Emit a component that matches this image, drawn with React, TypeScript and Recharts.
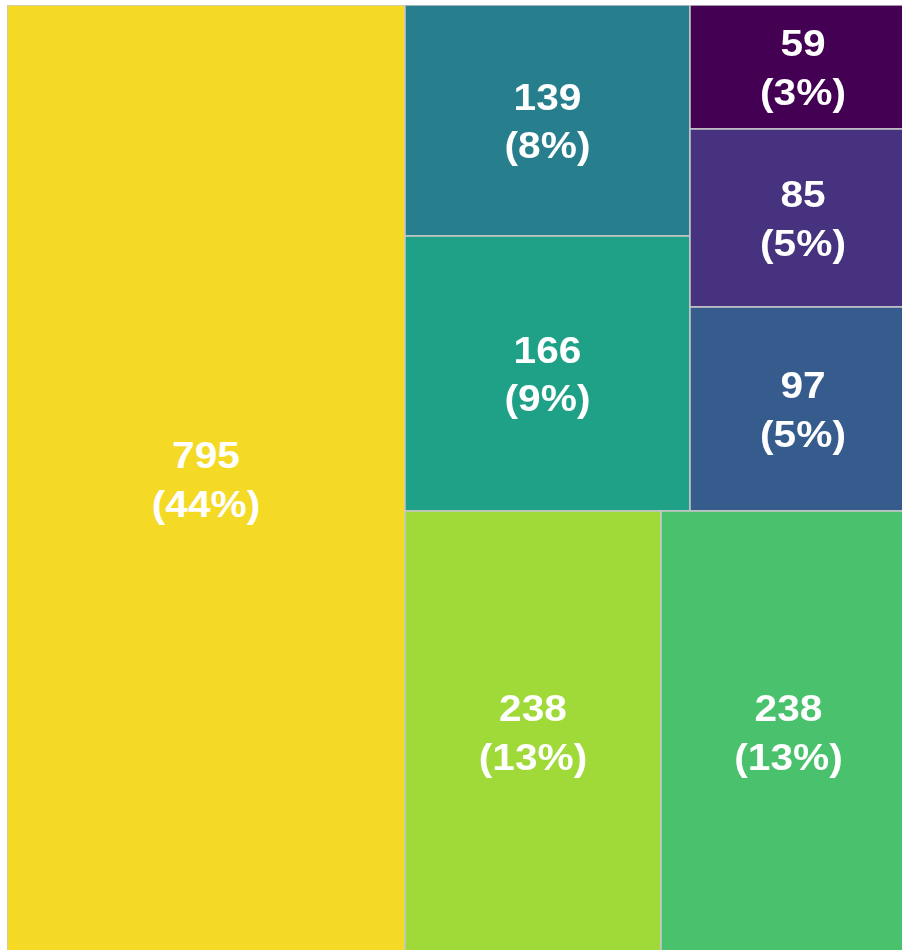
import React from "react";
import { Treemap } from "recharts";

// leaf values, in draw order
const values = [795, 139, 166, 59, 85, 97, 238, 238];
const colors = ["#f4da24", "#277f8e", "#1fa187", "#440154", "#46327e", "#365c8d", "#a0da39", "#4ac16d"];
const total = values.reduce((a, b) => a + b, 0);

const leaf = (i: number) => ({ name: `n${i}`, value: values[i], color: colors[i] });

// grouping so the squarify pass lays the blocks out like the reference
const data = [
    leaf(0),
    {
        name: "rest",
        children: [
            {
                name: "upper",
                children: [
                    { name: "upperLeft", children: [leaf(1), leaf(2)] },
                    { name: "upperRight", children: [leaf(3), leaf(4), leaf(5)] },
                ],
            },
            { name: "lower", children: [leaf(6), leaf(7)] },
        ],
    },
];

const labelStyle = {
    fill: "#fff",
    fontSize: 36,
    fontWeight: "bold",
    fontFamily: "Liberation Sans, Arial, sans-serif",
};

const Cell = (props: any) => {
    const { x, y, width, height, children, value, color } = props;
    if (children && children.length) return <g />;
    const cx = x + width / 2;
    const cy = y + height / 2;
    const pct = Math.round((value / total) * 100);
    // the reference glyphs are a bit wider than tall
    return (
        <g>
            <rect x={x} y={y} width={width} height={height} fill={color} stroke="#c8c8c8" strokeWidth={1.5} />
            <g transform={`translate(${cx},${cy}) scale(1.13,1)`}>
                <text x={0} y={-11} textAnchor="middle" {...labelStyle}>
                    {value}
                </text>
                <text x={0} y={38} textAnchor="middle" {...labelStyle}>
                    ({pct}%)
                </text>
            </g>
        </g>
    );
};

export default function App() {
    // fixed so the oversized chart is cut at the window edge without scrollbars
    return (
        <div style={{ position: "fixed", left: 7, top: 5, width: 909, height: 948 }}>
            <Treemap
                width={909}
                height={948}
                data={data}
                dataKey="value"
                aspectRatio={1.09}
                isAnimationActive={false}
                content={(p: any) => <Cell {...p} />}
            />
        </div>
    );
}
